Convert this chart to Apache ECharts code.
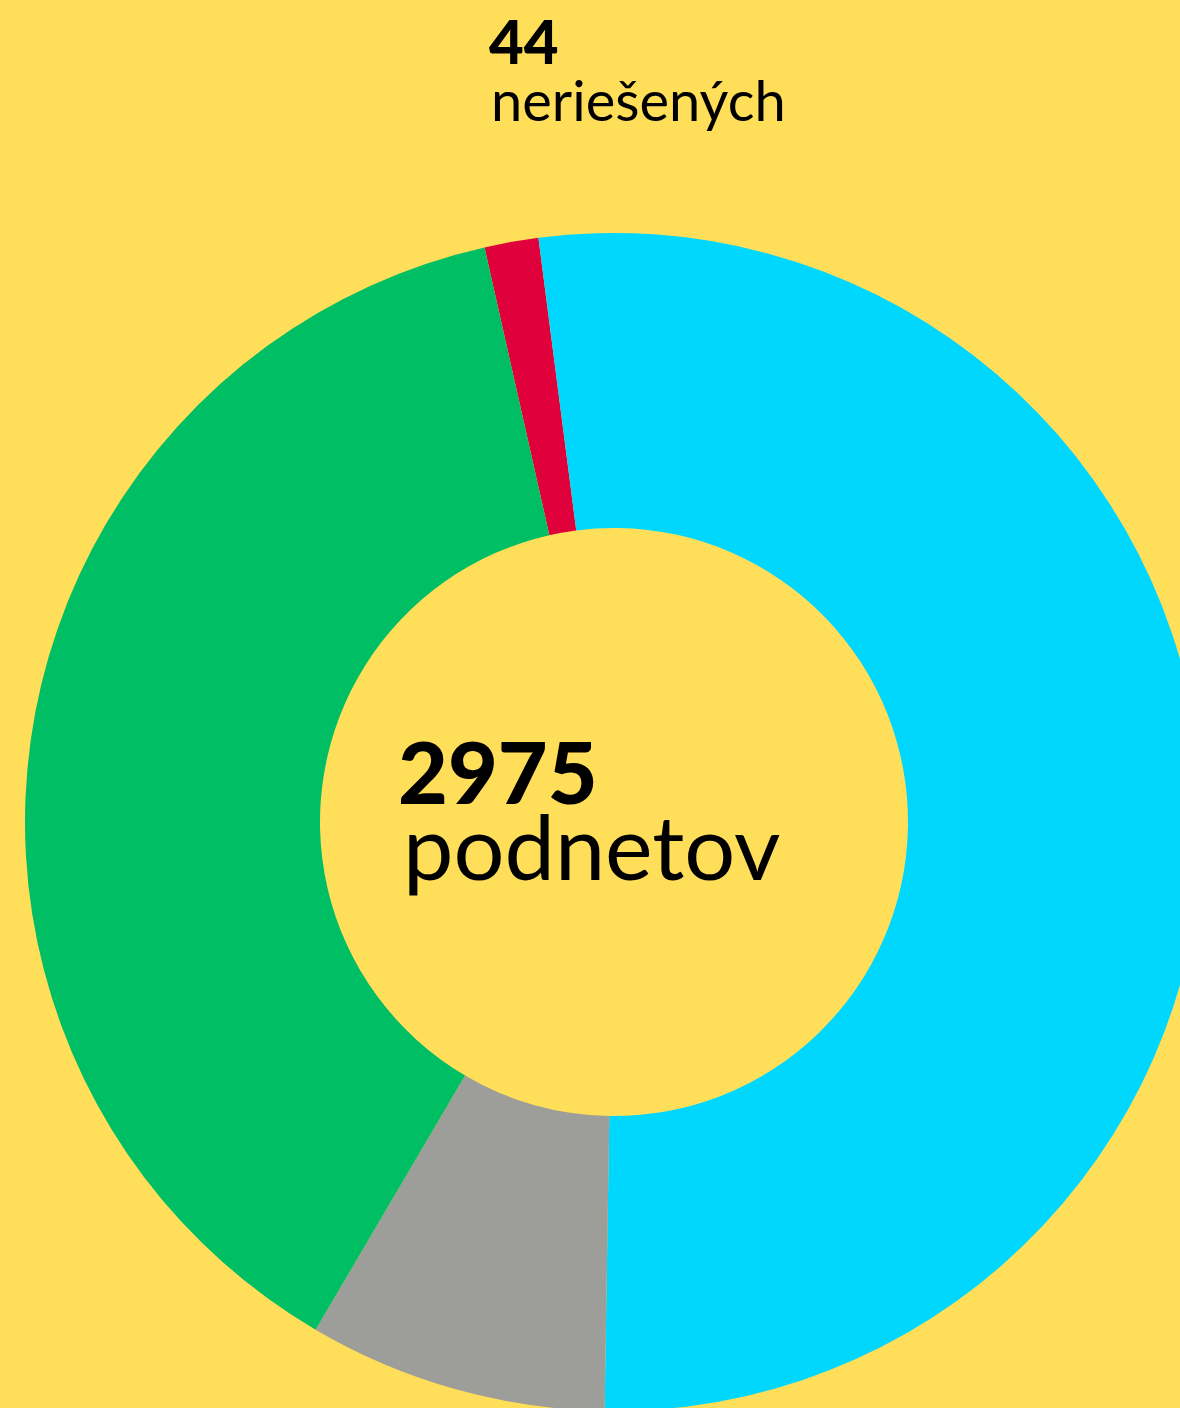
<!DOCTYPE html>
<html>
<head>
<meta charset="utf-8">
<script src="https://cdn.jsdelivr.net/npm/echarts@6/dist/echarts.min.js"></script>
<style>
  html, body { margin: 0; padding: 0; background: #FFDE5A; }
  #chart { width: 1180px; height: 1408px; }
</style>
</head>
<body>
<div id="chart"></div>
<script>
const categories = ['neriešených', 'kategória 2', 'kategória 3', 'kategória 4'];
const values = [44, 1556, 244, 1131];
const colors = ['#E0003C', '#00D7FF', '#9D9D9A', '#00BE64'];
const totalLabel = 'podnetov';
const highlightLabel = 'neriešených';

const total = values.reduce((a, b) => a + b, 0);

const chart = echarts.init(document.getElementById('chart'), null, { renderer: 'canvas' });
chart.setOption({
  backgroundColor: '#FFDE5A',
  animation: false,
  series: [{
    type: 'pie',
    center: [614, 822],
    radius: [294, 589],
    startAngle: 102.7,
    clockwise: true,
    silent: true,
    label: { show: false },
    labelLine: { show: false },
    itemStyle: { borderWidth: 0 },
    data: categories.map((c, i) => ({ name: c, value: values[i], itemStyle: { color: colors[i] } }))
  }],
  graphic: [
    { type: 'text', left: 489, top: 15, style: { text: String(values[0]), font: '900 60px Lato', fill: '#000' } },
    { type: 'text', left: 491, top: 75, style: { text: highlightLabel, font: '400 56px Lato', fill: '#000' } },
    { type: 'text', left: 398, top: 733, style: { text: String(total), font: '900 86px Lato', fill: '#000' } },
    { type: 'text', left: 403, top: 806, style: { text: totalLabel, font: '400 90px Lato', fill: '#000' } }
  ]
});
</script>
</body>
</html>
